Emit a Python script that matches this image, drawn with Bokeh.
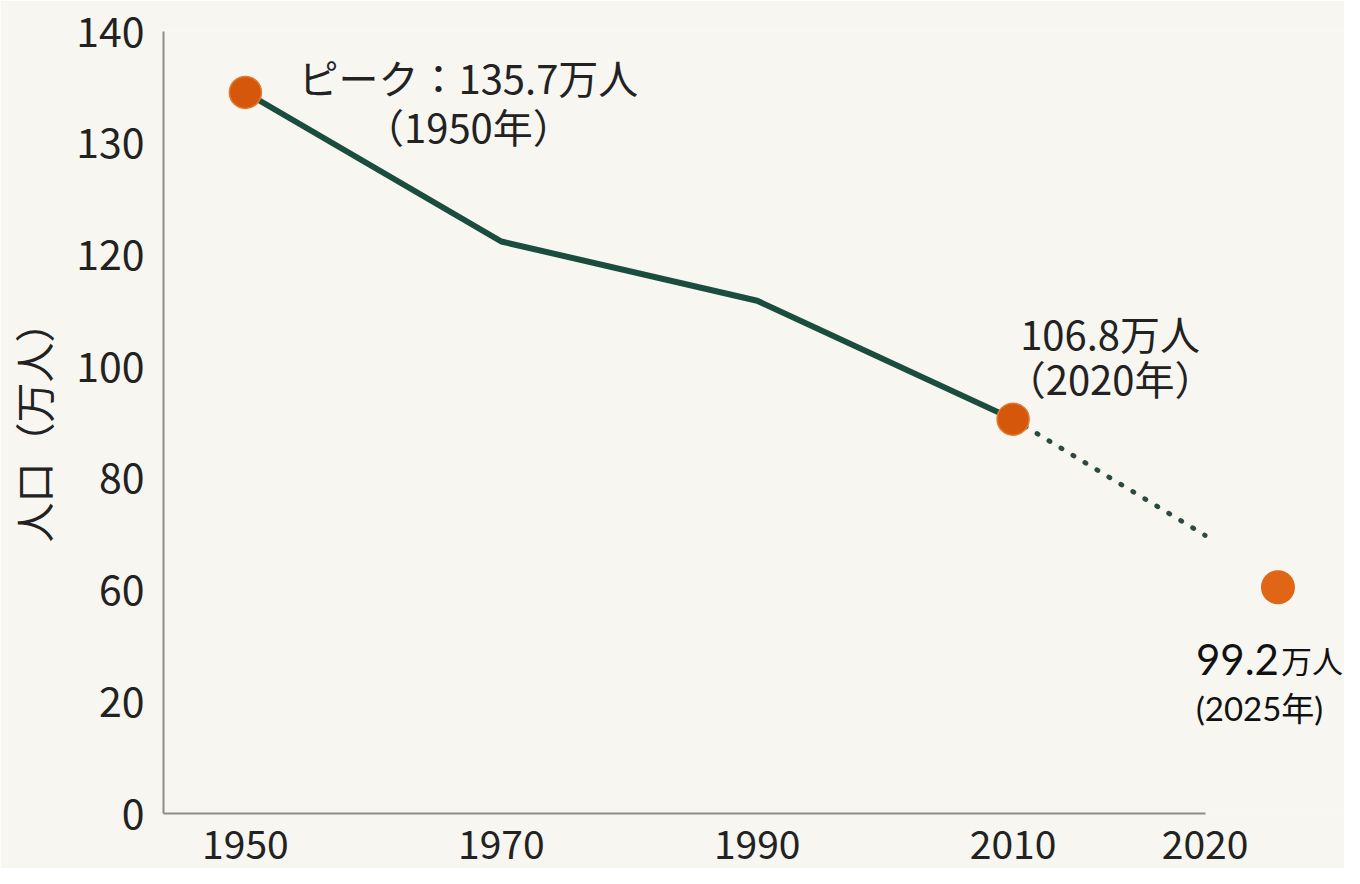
from bokeh.plotting import figure
from bokeh.models import ColumnDataSource, Range1d, FixedTicker
from bokeh.embed import file_html
from bokeh.resources import INLINE
from bokeh.core.properties import value

# ---- data ----
years = [1950, 1970, 1990, 2010]
population_pos = [129.1, 102.4, 91.8, 70.6]
proj_years = [2010, 2025]
proj_pos = [70.6, 49.8]
marker_years = [1950, 2010]
marker_pos = [129.1, 70.6]
latest_year = [2030.7]
latest_pos = [40.5]

x_ticks = [1950, 1970, 1990, 2010, 2025]
x_tick_labels = ["1950", "1970", "1990", "2010", "2020"]
y_ticks = [0, 20, 40, 60, 80, 100, 120, 140]
y_tick_labels = ["0", "20", "60", "80", "100", "120", "130", "140"]

peak_line1 = ["ピーク：135.7万人"]
peak_line2 = ["（1950年）"]
mid_line1 = ["106.8万人"]
mid_line2 = ["（2020年）"]
latest_num = ["99.2"]
latest_unit = ["万人"]
latest_year_label = ["(2025年)"]

BG = "#f7f6f1"
GREEN = "#1b4d3f"
ORANGE = "#d4570c"
ORANGE2 = "#e06616"
CJK = "Noto Sans CJK JP"
TXT = "#222222"

p = figure(width=1344, height=868, output_backend="svg", toolbar_location=None,
           x_range=Range1d(1943.6, 2035.9), y_range=Range1d(0, 140),
           min_border_left=163, min_border_top=31, min_border_right=0,
           min_border_bottom=55,
           background_fill_color=BG, border_fill_color=BG, outline_line_color=None)

p.xgrid.visible = False
p.ygrid.visible = False

for ax in (p.xaxis[0], p.yaxis[0]):
    ax.axis_line_color = "#8c8c8c"
    ax.axis_line_width = 2
    ax.major_tick_line_color = None
    ax.minor_tick_line_color = None
    ax.major_label_text_font = CJK
    ax.major_label_text_color = TXT

p.xaxis.ticker = FixedTicker(ticks=x_ticks)
p.xaxis.major_label_overrides = dict(zip(x_ticks, x_tick_labels))
p.xaxis.bounds = (1943.6, 2025)
p.xaxis.major_label_standoff = 10
p.xaxis.major_label_text_font_size = "39px"

p.yaxis.ticker = FixedTicker(ticks=y_ticks)
p.yaxis.major_label_overrides = dict(zip(y_ticks, y_tick_labels))
p.yaxis.bounds = (0, 140)
p.yaxis.major_label_standoff = 13
p.yaxis.major_label_text_font_size = "41px"
p.yaxis.axis_label = "人口（万人）"
p.yaxis.axis_label_text_font = CJK
p.yaxis.axis_label_text_font_size = "40px"
p.yaxis.axis_label_text_font_style = "normal"
p.yaxis.axis_label_text_color = TXT
p.yaxis.axis_label_standoff = 11

# projection (dotted)
p.line(proj_years, proj_pos, line_color="#2c4a42", line_width=5,
       line_dash="1 13", line_cap="round")
# observed line
p.line(years, population_pos, line_color=GREEN, line_width=6, line_join="round")
# markers
p.scatter(marker_years, marker_pos, size=32, fill_color=ORANGE,
          line_color="#e27a30", line_width=1.5)
p.scatter(latest_year, latest_pos, size=34, fill_color=ORANGE2, line_color=None)

# annotations
src_peak = ColumnDataSource(dict(x=[marker_years[0]], y=[marker_pos[0]],
                                 t1=peak_line1, t2=peak_line2))
p.text(x="x", y="y", text="t1", source=src_peak, x_offset=223, y_offset=-15,
       text_align="center", text_baseline="alphabetic",
       text_font=value(CJK), text_font_size="40px", text_color=TXT)
p.text(x="x", y="y", text="t2", source=src_peak, x_offset=223, y_offset=34,
       text_align="center", text_baseline="alphabetic",
       text_font=value(CJK), text_font_size="40px", text_color=TXT)

src_mid = ColumnDataSource(dict(x=[marker_years[1]], y=[marker_pos[1]],
                                t1=mid_line1, t2=mid_line2))
p.text(x="x", y="y", text="t1", source=src_mid, x_offset=97, y_offset=-86,
       text_align="center", text_baseline="alphabetic",
       text_font=value(CJK), text_font_size="40px", text_color=TXT)
p.text(x="x", y="y", text="t2", source=src_mid, x_offset=97, y_offset=-41,
       text_align="center", text_baseline="alphabetic",
       text_font=value(CJK), text_font_size="40px", text_color=TXT)

src_last = ColumnDataSource(dict(x=latest_year, y=latest_pos, num=latest_num,
                                 unit=latest_unit, yr=latest_year_label))
p.text(x="x", y="y", text="num", source=src_last, x_offset=-82, y_offset=72,
       text_align="left", text_baseline="alphabetic",
       text_font=value("Lato"), text_font_size="42px", text_color="#111111")
p.text(x="x", y="y", text="unit", source=src_last, x_offset=3, y_offset=72,
       text_align="left", text_baseline="alphabetic",
       text_font=value(CJK), text_font_size="31px", text_color="#111111")
p.text(x="x", y="y", text="yr", source=src_last, x_offset=-82, y_offset=121,
       text_align="left", text_baseline="alphabetic",
       text_font=value("Lato, 'Noto Sans CJK JP'"), text_font_size="33px",
       text_color="#111111")

open("out.html", "w").write(file_html(p, INLINE))
